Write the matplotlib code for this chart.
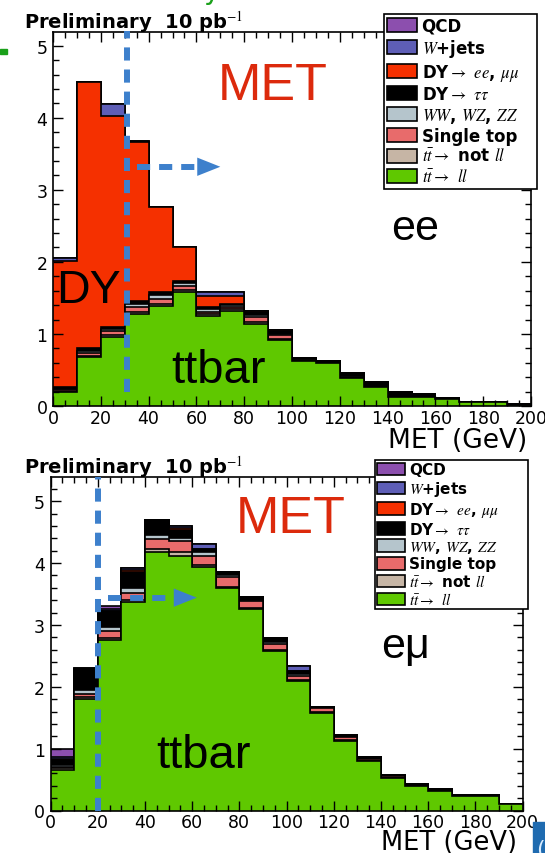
#*********************************************************************************
import numpy as np
import matplotlib
matplotlib.use('Agg')
import matplotlib.pyplot as plt
from matplotlib.patches import Patch, Rectangle
from matplotlib.ticker import MultipleLocator

#*********************************************************************************
# data: MET distributions, 10 GeV bins from 0 to 200
edges = np.arange(0, 201, 10)

# ee channel
tt_ll_ee      = [0.19, 0.68, 0.96, 1.28, 1.39, 1.58, 1.25, 1.32, 1.14, 0.91, 0.63, 0.60, 0.39, 0.26, 0.12, 0.12, 0.10, 0.05, 0.05, 0.02]
tt_notll_ee   = [0.01, 0.02, 0.03, 0.03, 0.03, 0.03, 0.02, 0.02, 0.02, 0.02, 0.00, 0.00, 0.00, 0.00, 0.00, 0.00, 0.00, 0.00, 0.00, 0.00]
single_top_ee = [0.02, 0.04, 0.05, 0.06, 0.07, 0.05, 0.04, 0.04, 0.07, 0.05, 0.01, 0.01, 0.01, 0.01, 0.01, 0.01, 0.00, 0.00, 0.00, 0.00]
diboson_ee    = [0.01, 0.03, 0.03, 0.05, 0.05, 0.04, 0.03, 0.02, 0.03, 0.02, 0.01, 0.00, 0.01, 0.01, 0.01, 0.00, 0.00, 0.00, 0.00, 0.00]
dytautau_ee   = [0.04, 0.03, 0.03, 0.04, 0.04, 0.04, 0.03, 0.02, 0.04, 0.04, 0.02, 0.02, 0.05, 0.05, 0.05, 0.03, 0.01, 0.01, 0.01, 0.01]
dyeemm_ee     = [1.74, 3.70, 2.93, 2.20, 1.18, 0.47, 0.16, 0.11, 0.02, 0.02, 0.00, 0.00, 0.00, 0.00, 0.00, 0.00, 0.00, 0.00, 0.00, 0.00]
wjets_ee      = [0.04, 0.00, 0.16, 0.02, 0.00, 0.00, 0.05, 0.05, 0.00, 0.00, 0.00, 0.00, 0.00, 0.00, 0.00, 0.00, 0.00, 0.00, 0.00, 0.00]
qcd_ee        = [0.00]*20

# emu channel
tt_ll_em      = [0.66, 1.81, 2.76, 3.37, 4.17, 4.12, 3.93, 3.60, 3.25, 2.57, 2.10, 1.58, 1.13, 0.80, 0.53, 0.40, 0.32, 0.24, 0.24, 0.10]
tt_notll_em   = [0.02, 0.02, 0.02, 0.03, 0.05, 0.06, 0.03, 0.02, 0.02, 0.02, 0.01, 0.01, 0.01, 0.00, 0.00, 0.00, 0.00, 0.00, 0.00, 0.00]
single_top_em = [0.02, 0.06, 0.12, 0.12, 0.16, 0.17, 0.15, 0.16, 0.12, 0.10, 0.06, 0.06, 0.05, 0.03, 0.02, 0.01, 0.01, 0.00, 0.00, 0.00]
diboson_em    = [0.04, 0.05, 0.06, 0.08, 0.08, 0.06, 0.06, 0.02, 0.02, 0.04, 0.03, 0.00, 0.00, 0.00, 0.00, 0.00, 0.00, 0.00, 0.00, 0.00]
dytautau_em   = [0.08, 0.34, 0.26, 0.26, 0.24, 0.12, 0.05, 0.05, 0.04, 0.06, 0.05, 0.03, 0.03, 0.04, 0.02, 0.02, 0.01, 0.01, 0.01, 0.01]
dyeemm_em     = [0.02, 0.01, 0.00, 0.02, 0.00, 0.04, 0.00, 0.00, 0.00, 0.00, 0.00, 0.00, 0.00, 0.00, 0.00, 0.00, 0.00, 0.00, 0.00, 0.00]
wjets_em      = [0.03, 0.01, 0.03, 0.04, 0.00, 0.02, 0.09, 0.00, 0.00, 0.00, 0.08, 0.00, 0.00, 0.00, 0.00, 0.00, 0.00, 0.00, 0.00, 0.00]
qcd_em        = [0.12, 0.00, 0.05, 0.00, 0.00, 0.00, 0.00, 0.00, 0.00, 0.00, 0.00, 0.00, 0.00, 0.00, 0.00, 0.00, 0.00, 0.00, 0.00, 0.00]

# legend (top to bottom) and colours
labels = ['QCD', r'$W$+jets', r'DY$\rightarrow$ $ee$, $\mu\mu$', r'DY$\rightarrow$ $\tau\tau$',
          r'$WW$, $WZ$, $ZZ$', 'Single top', r'$t\bar{t}\rightarrow$ not $ll$', r'$t\bar{t}\rightarrow$ $ll$']
colors = ['#8c4fae', '#5e5eb6', '#f53000', '#000000', '#b5c5cc', '#e86b6b', '#c6b5a5', '#5fc800']

# MET cut lines (GeV) and arrow height
cut_ee, arrow_y_ee = 31, 3.32
cut_em, arrow_y_em = 20.3, 3.44

#*********************************************************************************
plt.rcParams['mathtext.fontset'] = 'stix'
plt.rcParams['font.family'] = 'DejaVu Sans'

W, H = 545., 854.
def fx(x): return x/W
def fy(y): return 1-y/H

fig = plt.figure(figsize=(5.45,8.54), dpi=100)
ax1 = fig.add_axes([fx(53), fy(407), (531-53)/W, (407-33)/H])
ax2 = fig.add_axes([fx(50.5), fy(811.5), (522.5-50.5)/W, (811.5-478)/H])

stacks = {
   'ee': [tt_ll_ee, tt_notll_ee, single_top_ee, diboson_ee, dytautau_ee, dyeemm_ee, wjets_ee, qcd_ee],
   'em': [tt_ll_em, tt_notll_em, single_top_em, diboson_em, dytautau_em, dyeemm_em, wjets_em, qcd_em],
}
stack_colors = colors[::-1]
blue = '#3d80cc'

def draw_panel(ax, layers, ymax):
   cum = np.cumsum(np.array(layers), axis=0)
   for i in range(len(layers)-1, -1, -1):
      ax.stairs(cum[i], edges, baseline=0, fill=True, facecolor=stack_colors[i], edgecolor='none')
      ax.stairs(cum[i], edges, baseline=None, color='k', lw=1.2)
   ax.set_xlim(0, 200)
   ax.set_ylim(0, ymax)
   ax.xaxis.set_major_locator(MultipleLocator(20))
   ax.xaxis.set_minor_locator(MultipleLocator(5))
   ax.yaxis.set_major_locator(MultipleLocator(1))
   ax.yaxis.set_minor_locator(MultipleLocator(0.2))
   ax.tick_params(which='both', direction='in', top=True, right=True, width=1.0, labelsize=12.5)
   ax.tick_params(which='major', length=7.5)
   ax.tick_params(which='minor', length=4)
   ax.tick_params(axis='x', pad=2)
   ax.tick_params(axis='y', pad=4)
   for sp in ax.spines.values():
      sp.set_linewidth(1.2)

draw_panel(ax1, stacks['ee'], 5.19)
draw_panel(ax2, stacks['em'], 5.39)

#*********************************************************************************
# legends
handles = [Patch(facecolor=c, edgecolor='k', linewidth=1.2) for c in colors]
def add_legend(ax, x0, y0, x1, y1, size, spacing):
   leg = ax.legend(handles, labels, loc='upper left', mode='expand',
                   bbox_to_anchor=(fx(x0), fy(y1), (x1-x0)/W, (y1-y0)/H), bbox_transform=fig.transFigure,
                   borderaxespad=0, borderpad=0.15, handlelength=1.8, handleheight=0.9, handletextpad=0.3,
                   labelspacing=spacing, fancybox=False, framealpha=1, edgecolor='k',
                   prop={'family':'DejaVu Sans', 'weight':'bold', 'size':size})
   leg.get_frame().set_linewidth(1.2)
   leg.set_zorder(10)

add_legend(ax1, 384, 15, 537, 190, 12, 0.15)
add_legend(ax2, 375, 461, 528, 617, 11, 0.12)

#*********************************************************************************
# cut lines and arrows
dash = (0, (2.2, 1.5))
ax1.plot([cut_ee, cut_ee], [0.19, 5.21], color=blue, lw=4.3, linestyle=dash, clip_on=False, zorder=5)
ax1.plot([35, 60.5], [arrow_y_ee, arrow_y_ee], color=blue, lw=4.3, linestyle=dash, zorder=5)
ax1.annotate('', xy=(70, arrow_y_ee), xytext=(60.4, arrow_y_ee), zorder=5,
             arrowprops=dict(arrowstyle='-|>,head_length=0.83,head_width=0.33', mutation_scale=20,
                             color=blue, lw=0, shrinkA=0, shrinkB=0))
ax2.plot([cut_em, cut_em], [0, 5.39], color=blue, lw=4.3, linestyle=dash, clip_on=False, zorder=5)
ax2.plot([24.4, 52.5], [arrow_y_em, arrow_y_em], color=blue, lw=4.3, linestyle=dash, zorder=5)
ax2.annotate('', xy=(62, arrow_y_em), xytext=(52.3, arrow_y_em), zorder=5,
             arrowprops=dict(arrowstyle='-|>,head_length=0.83,head_width=0.33', mutation_scale=20,
                             color=blue, lw=0, shrinkA=0, shrinkB=0))

#*********************************************************************************
# texts
for yb in [29, 474]:
   fig.text(fx(24), fy(yb), r'Preliminary  10 pb$^{-1}$', fontsize=14, fontweight='bold', va='baseline')
fig.text(fx(527), fy(448), 'MET (GeV)', fontsize=19, ha='right', va='baseline')
fig.text(fx(517), fy(850), 'MET (GeV)', fontsize=18.5, ha='right', va='baseline')

red = '#dc2a0c'
fig.text(fx(218), fy(100), 'MET', fontsize=37.5, color=red, family='Liberation Sans', va='baseline')
fig.text(fx(236), fy(533), 'MET', fontsize=37.5, color=red, family='Liberation Sans', va='baseline')
fig.text(fx(391), fy(240), 'ee', fontsize=31, family='Liberation Sans', va='baseline')
fig.text(fx(381), fy(658), 'e\u03bc', fontsize=31, family='Liberation Sans', va='baseline')
fig.text(fx(56), fy(303), 'DY', fontsize=33.5, family='Liberation Sans', va='baseline')
fig.text(fx(171), fy(383), 'ttbar', fontsize=34, family='Liberation Sans', va='baseline')
fig.text(fx(156), fy(768), 'ttbar', fontsize=34, family='Liberation Sans', va='baseline')

# bits of the slide around the plots
fig.add_artist(Rectangle((0, fy(55)), 7/W, 5/H, transform=fig.transFigure, color='#1aa01a'))
fig.text(fx(203), fy(-1), 'y', fontsize=20, color='#1aa01a', va='baseline')
fig.add_artist(Rectangle((fx(533), 0), 14/W, 31/H, transform=fig.transFigure, color='#1f6bb0'))
fig.text(fx(536), fy(856), '(', fontsize=16, color='#d8ecff', va='baseline')

plt.savefig('out.png', dpi=100)
plt.close()

#*********************************************************************************
# END
#*********************************************************************************
